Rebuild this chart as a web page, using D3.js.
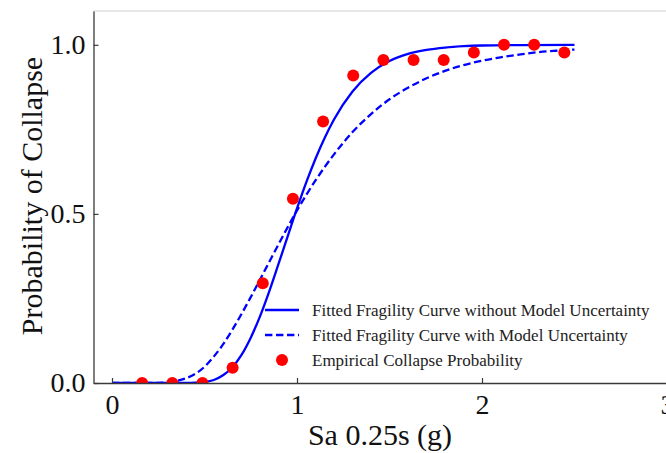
<!DOCTYPE html>
<html>
<head>
<meta charset="utf-8">
<script src="https://cdn.jsdelivr.net/npm/d3@7"></script>
<style>
  html, body { margin: 0; padding: 0; background: #fff; }
  svg { display: block; }
</style>
</head>
<body>
<svg id="chart" width="666" height="453"></svg>
<script>
// Empirical collapse fractions at each intensity level
const empiricalSa = [0.163, 0.326, 0.489, 0.652, 0.815, 0.978, 1.141, 1.304, 1.467, 1.630, 1.793, 1.956, 2.119, 2.282, 2.445];
const empiricalP  = [0, 0, 0, 0.045, 0.295, 0.545, 0.773, 0.909, 0.955, 0.955, 0.955, 0.977, 1.0, 1.0, 0.977];

// Fitted fragility curve without model uncertainty
const fitSa = [0, 0.1, 0.2, 0.3, 0.4, 0.45, 0.5, 0.55, 0.6, 0.65, 0.7, 0.75, 0.8, 0.85, 0.9, 0.95, 1.0, 1.05, 1.1, 1.15, 1.2, 1.3, 1.4, 1.5, 1.6, 1.7, 1.8, 1.9, 2.0, 2.2, 2.5];
const fitP  = [0, 0, 0, 0, 0.0001, 0.0008, 0.003, 0.009, 0.023, 0.046, 0.083, 0.134, 0.197, 0.271, 0.352, 0.434, 0.516, 0.593, 0.663, 0.725, 0.779, 0.862, 0.917, 0.952, 0.973, 0.985, 0.992, 0.996, 0.998, 0.9993, 0.9999];

// Fitted fragility curve with model uncertainty
const fitUncSa = [0, 0.1, 0.2, 0.25, 0.3, 0.35, 0.4, 0.45, 0.5, 0.55, 0.6, 0.65, 0.7, 0.75, 0.8, 0.85, 0.9, 0.95, 1.0, 1.1, 1.2, 1.3, 1.4, 1.5, 1.6, 1.7, 1.8, 1.9, 2.0, 2.1, 2.2, 2.3, 2.4, 2.5];
const fitUncP  = [0, 0, 0.0001, 0.0005, 0.002, 0.006, 0.014, 0.027, 0.048, 0.078, 0.114, 0.157, 0.204, 0.254, 0.306, 0.358, 0.410, 0.461, 0.510, 0.599, 0.676, 0.742, 0.795, 0.839, 0.873, 0.901, 0.923, 0.940, 0.953, 0.963, 0.971, 0.978, 0.9825, 0.986];

// Axis ticks and labels
const xTicks = [0, 1, 2, 3];
const yTicks = [0, 0.5, 1.0];
const legendLabels = [
  "Fitted Fragility Curve without Model Uncertainty",
  "Fitted Fragility Curve with Model Uncertainty",
  "Empirical Collapse Probability"
];

const blue = "#0000ff";
const red = "#ff0000";
const serif = "'Liberation Serif', 'Times New Roman', serif";

const svg = d3.select("#chart");
const plotLeft = 93.5, plotRight = 667, plotTop = 11, plotBottom = 383;

const x = d3.scaleLinear().domain([-0.1, 3.0]).range([plotLeft, plotRight]);
const y = d3.scaleLinear().domain([0, 1.1]).range([plotBottom, plotTop]);

svg.append("defs").append("clipPath").attr("id", "plotClip")
  .append("rect")
  .attr("x", plotLeft).attr("y", plotTop)
  .attr("width", plotRight - plotLeft).attr("height", plotBottom - plotTop);

const plot = svg.append("g").attr("clip-path", "url(#plotClip)");

const line = d3.line()
  .x(d => x(d[0]))
  .y(d => y(d[1]))
  .curve(d3.curveMonotoneX);

plot.append("path")
  .datum(d3.zip(fitSa, fitP))
  .attr("d", line)
  .attr("fill", "none")
  .attr("stroke", blue)
  .attr("stroke-width", 2.3);

plot.append("path")
  .datum(d3.zip(fitUncSa, fitUncP))
  .attr("d", line)
  .attr("fill", "none")
  .attr("stroke", blue)
  .attr("stroke-width", 2.3)
  .attr("stroke-dasharray", "7.4,3.6");

plot.selectAll("circle.emp")
  .data(d3.zip(empiricalSa, empiricalP))
  .join("circle")
  .attr("class", "emp")
  .attr("cx", d => x(d[0]))
  .attr("cy", d => y(d[1]))
  .attr("r", 6)
  .attr("fill", red);

// Light frame on the top and right
svg.append("line").attr("x1", plotLeft).attr("x2", plotRight).attr("y1", plotTop).attr("y2", plotTop)
  .attr("stroke", "#cfcfcf").attr("stroke-width", 1.2);
svg.append("line").attr("x1", plotRight).attr("x2", plotRight).attr("y1", plotTop).attr("y2", plotBottom)
  .attr("stroke", "#cfcfcf").attr("stroke-width", 1.2);

// Axes with inward ticks
const xAxis = svg.append("g")
  .attr("transform", `translate(0,${plotBottom})`)
  .call(d3.axisBottom(x).tickValues(xTicks).tickFormat(d3.format("d")).tickSizeInner(-5).tickSizeOuter(0).tickPadding(11));
const yAxis = svg.append("g")
  .attr("transform", `translate(${plotLeft},0)`)
  .call(d3.axisLeft(y).tickValues(yTicks).tickFormat(d3.format(".1f")).tickSizeInner(-5).tickSizeOuter(0).tickPadding(8));

[xAxis, yAxis].forEach(g => {
  g.select(".domain").attr("stroke", "#3a3a3a").attr("stroke-width", 1.3);
  g.selectAll(".tick line").attr("stroke", "#3a3a3a").attr("stroke-width", 1.2);
  g.selectAll(".tick text")
    .attr("fill", "#111")
    .style("font-family", serif)
    .style("font-size", "28px");
});
xAxis.selectAll(".tick text").attr("dy", "0.71em");

// Axis titles
svg.append("text")
  .attr("x", 380).attr("y", 445)
  .attr("text-anchor", "middle")
  .attr("fill", "#111")
  .style("font-family", serif).style("font-size", "30px")
  .text("Sa 0.25s (g)");

svg.append("text")
  .attr("transform", "translate(42,196) rotate(-90)")
  .attr("text-anchor", "middle")
  .attr("fill", "#111")
  .style("font-family", serif).style("font-size", "30px")
  .text("Probability of Collapse");

// Legend
const legend = svg.append("g");
const rowY = [310, 335, 360];
legend.append("line").attr("x1", 265).attr("x2", 299).attr("y1", rowY[0]).attr("y2", rowY[0])
  .attr("stroke", blue).attr("stroke-width", 2.3);
legend.append("line").attr("x1", 265).attr("x2", 299).attr("y1", rowY[1]).attr("y2", rowY[1])
  .attr("stroke", blue).attr("stroke-width", 2.3).attr("stroke-dasharray", "7.4,3.6");
legend.append("circle").attr("cx", 282).attr("cy", rowY[2]).attr("r", 6).attr("fill", red);
legend.selectAll("text")
  .data(legendLabels)
  .join("text")
  .attr("x", 312)
  .attr("y", (d, i) => rowY[i] + 5.5)
  .attr("fill", "#222")
  .style("font-family", serif).style("font-size", "17px")
  .text(d => d);
</script>
</body>
</html>
